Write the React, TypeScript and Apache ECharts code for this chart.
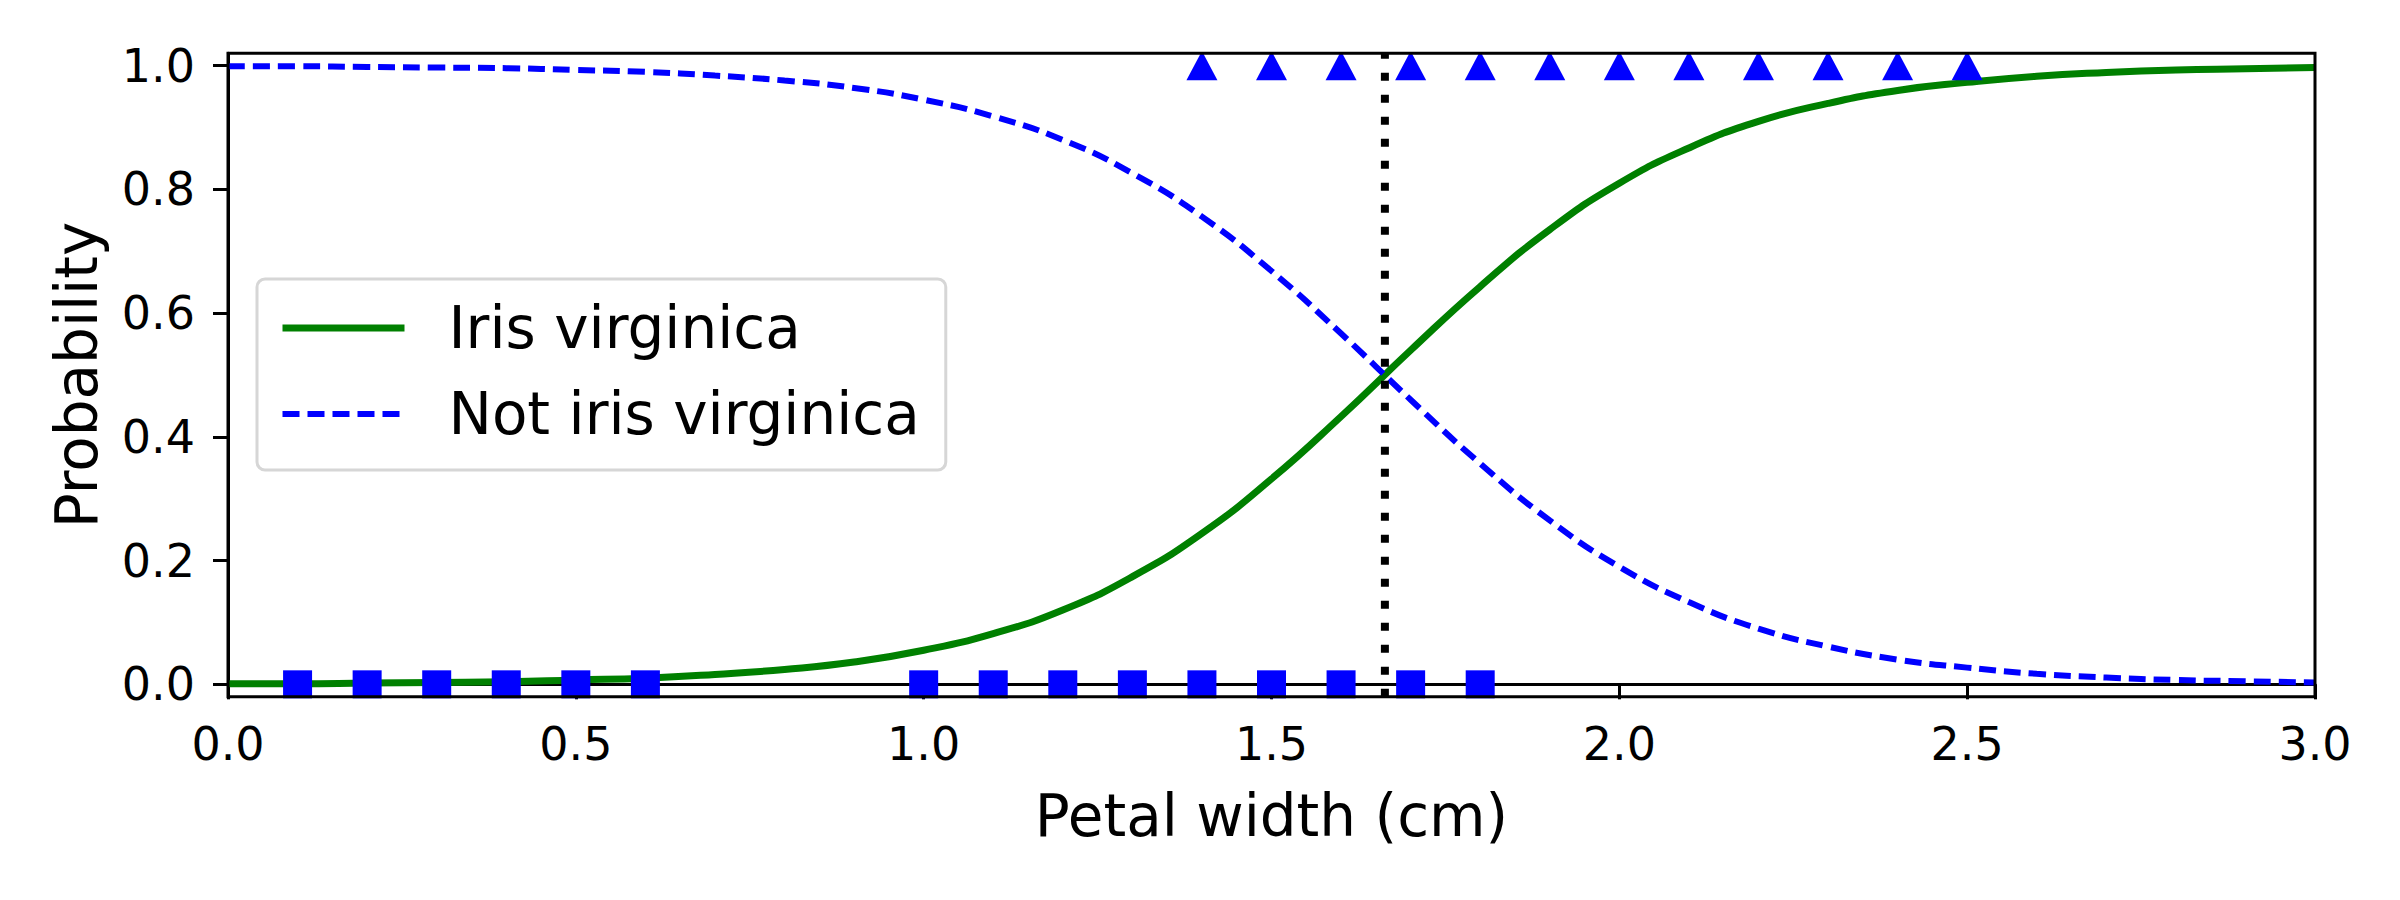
import React, { useEffect, useRef } from "react";
import * as echarts from "echarts";

// Petal width grid (cm) and estimated probabilities
const petalWidth = [
  0.0, 0.1, 0.2, 0.3, 0.4, 0.5, 0.6, 0.7, 0.8, 0.9, 1.0,
  1.1, 1.2, 1.3, 1.4, 1.5, 1.6, 1.7, 1.8, 1.9, 2.0,
  2.1, 2.2, 2.3, 2.4, 2.5, 2.6, 2.7, 2.8, 2.9, 3.0,
];
const probVirginica = [
  0.001, 0.001, 0.002, 0.003, 0.004, 0.007, 0.010, 0.016, 0.024, 0.036, 0.055,
  0.082, 0.120, 0.174, 0.244, 0.332, 0.433, 0.540, 0.643, 0.735, 0.810,
  0.867, 0.910, 0.939, 0.960, 0.973, 0.983, 0.989, 0.993, 0.995, 0.997,
];
const probNotVirginica = [
  0.999, 0.999, 0.998, 0.997, 0.996, 0.993, 0.990, 0.984, 0.976, 0.964, 0.945,
  0.918, 0.880, 0.826, 0.756, 0.668, 0.567, 0.460, 0.357, 0.265, 0.190,
  0.133, 0.090, 0.061, 0.040, 0.027, 0.017, 0.011, 0.007, 0.005, 0.003,
];
// Training samples
const notVirginicaX = [0.1, 0.2, 0.3, 0.4, 0.5, 0.6, 1.0, 1.1, 1.2, 1.3, 1.4, 1.5, 1.6, 1.7, 1.8];
const virginicaX = [1.4, 1.5, 1.6, 1.7, 1.8, 1.9, 2.0, 2.1, 2.2, 2.3, 2.4, 2.5];
const decisionBoundary = 1.663;
const yTicks = [0, 0.2, 0.4, 0.6, 0.8, 1.0];
const seriesNames = ["Iris virginica", "Not iris virginica"];

const FONT = "'DejaVu Sans', sans-serif";

export default function App() {
  const ref = useRef<HTMLDivElement>(null);
  useEffect(() => {
    const chart = echarts.init(ref.current!, null, { renderer: "svg" });
    const yMin = -0.02;
    const yMax = 1.02;
    const hiddenSymbol = { color: "rgba(0,0,0,0)", opacity: 0, borderWidth: 0 };
    chart.setOption({
      animation: false,
      backgroundColor: "#ffffff",
      textStyle: { fontFamily: FONT },
      grid: {
        left: 228,
        top: 53.3,
        right: 85,
        bottom: 203.3,
        show: true,
        borderColor: "#000",
        borderWidth: 3,
        backgroundColor: "transparent",
        z: 10,
        outerBoundsMode: "none",
      },
      legend: {
        data: [
          { name: seriesNames[0], lineStyle: { width: 7 }, itemStyle: hiddenSymbol },
          { name: seriesNames[1], lineStyle: { width: 6 }, itemStyle: hiddenSymbol },
        ],
        orient: "vertical",
        left: 257,
        top: 279,
        itemWidth: 122,
        itemHeight: 20,
        itemGap: 16,
        padding: [14, 26, 21, 22],
        backgroundColor: "rgba(255,255,255,0.8)",
        borderColor: "#d6d6d6",
        borderWidth: 3,
        borderRadius: 8,
        selectedMode: false,
        textStyle: {
          fontSize: 58,
          lineHeight: 70,
          color: "#000",
          fontFamily: FONT,
          padding: [0, 0, 0, 39],
        },
      },
      xAxis: {
        type: "value",
        min: 0,
        max: 3,
        interval: 0.5,
        name: "Petal width (cm)",
        nameLocation: "middle",
        nameGap: 90,
        nameTextStyle: { fontSize: 58, color: "#000", fontFamily: FONT },
        axisLine: { show: true, lineStyle: { color: "#000", width: 3 } },
        axisTick: { show: true, length: 15, lineStyle: { color: "#000", width: 3 } },
        axisLabel: {
          fontSize: 46,
          color: "#000",
          margin: 24,
          fontFamily: FONT,
          formatter: (v: number) => v.toFixed(1),
        },
        splitLine: { show: false },
      },
      yAxis: {
        type: "value",
        min: yMin,
        max: yMax,
        name: "Probability",
        nameLocation: "middle",
        nameRotate: 90,
        nameGap: 122,
        nameTextStyle: { fontSize: 58, color: "#000", fontFamily: FONT },
        axisLine: { show: true, lineStyle: { color: "#000", width: 3 } },
        axisTick: {
          show: true,
          length: 15,
          customValues: yTicks,
          lineStyle: { color: "#000", width: 3 },
        },
        axisLabel: {
          fontSize: 46,
          color: "#000",
          margin: 33,
          fontFamily: FONT,
          customValues: yTicks,
          formatter: (v: number) => v.toFixed(1),
        },
        splitLine: { show: false },
      },
      series: [
        {
          name: seriesNames[0],
          type: "line",
          data: petalWidth.map((x, i) => [x, probVirginica[i]]),
          smooth: true,
          symbol: "none",
          showSymbol: false,
          lineStyle: { color: "#008000", width: 7 },
          itemStyle: { color: "#008000" },
          z: 3,
        },
        {
          name: seriesNames[1],
          type: "line",
          data: petalWidth.map((x, i) => [x, probNotVirginica[i]]),
          smooth: true,
          symbol: "none",
          showSymbol: false,
          lineStyle: { color: "#0000ff", width: 6, type: [17, 8], cap: "butt" },
          itemStyle: { color: "#0000ff" },
          z: 3,
        },
        {
          name: "Decision boundary",
          type: "line",
          data: [
            [decisionBoundary, yMin],
            [decisionBoundary, yMax],
          ],
          symbol: "none",
          showSymbol: false,
          lineStyle: { color: "#000", width: 8, type: [8, 14], cap: "butt" },
          itemStyle: { color: "#000" },
          z: 4,
        },
        {
          name: "Not iris virginica samples",
          type: "scatter",
          data: notVirginicaX.map((x) => [x, 0]),
          symbol: "rect",
          symbolSize: [29, 28],
          itemStyle: { color: "#0000ff", opacity: 1 },
          z: 5,
        },
        {
          name: "Iris virginica samples",
          type: "scatter",
          data: virginicaX.map((x) => [x, 1]),
          symbol: "path://M13.92,0L17.08,0L31,26.4L0,26.4Z",
          symbolSize: [31, 26.4],
          symbolOffset: [0, 1.5],
          itemStyle: { color: "#0000ff", opacity: 1 },
          z: 5,
        },
      ],
    });
    return () => chart.dispose();
  }, []);
  return (
    <div
      ref={ref}
      style={{ position: "fixed", left: 0, top: 0, width: 2400, height: 900, background: "#fff" }}
    />
  );
}
